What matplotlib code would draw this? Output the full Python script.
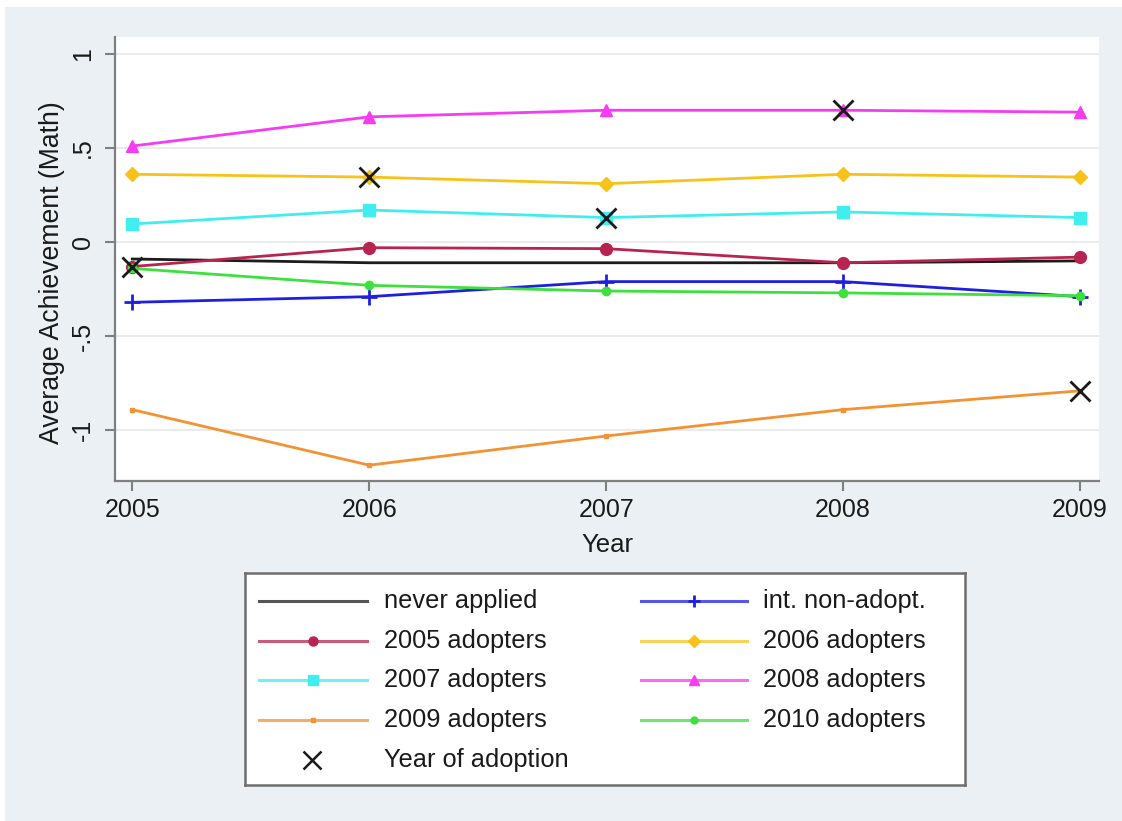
import matplotlib
matplotlib.use("Agg")
import matplotlib.pyplot as plt
from matplotlib.patches import Rectangle
from matplotlib.lines import Line2D

plt.rcParams['font.family'] = ['Liberation Sans', 'DejaVu Sans']

years = [2005, 2006, 2007, 2008, 2009]

never_applied = [-0.09, -0.11, -0.11, -0.11, -0.10]
int_non_adopt = [-0.32, -0.29, -0.21, -0.21, -0.29]
adopters_2005 = [-0.13, -0.03, -0.035, -0.11, -0.08]
adopters_2006 = [0.36, 0.345, 0.31, 0.36, 0.345]
adopters_2007 = [0.096, 0.17, 0.13, 0.16, 0.13]
adopters_2008 = [0.51, 0.665, 0.70, 0.70, 0.69]
adopters_2009 = [-0.89, -1.185, -1.03, -0.89, -0.79]
adopters_2010 = [-0.14, -0.23, -0.26, -0.27, -0.285]

adoption_years = [2005, 2006, 2007, 2008, 2009]
adoption_values = [-0.13, 0.345, 0.13, 0.70, -0.79]

y_ticks = [-1, -0.5, 0, 0.5, 1]
y_tick_labels = ["-1", "-.5", "0", ".5", "1"]

# label, values, color, marker, marker size (plot), marker size (legend)
series = [
    ("never applied", never_applied, "#1c1c1c", None, 0, 0),
    ("int. non-adopt.", int_non_adopt, "#1f1fe0", "+", 11, 8),
    ("2005 adopters", adopters_2005, "#b82450", "o", 8.5, 6.5),
    ("2006 adopters", adopters_2006, "#f7c21a", "D", 7.5, 6),
    ("2007 adopters", adopters_2007, "#40eef0", "s", 8, 6.5),
    ("2008 adopters", adopters_2008, "#f53cf0", "^", 9, 7.5),
    ("2009 adopters", adopters_2009, "#f39233", "s", 3.5, 3.5),
    ("2010 adopters", adopters_2010, "#3ee03e", "o", 6, 5),
]

W, H = 1122, 821
fig = plt.figure(figsize=(W / 100, H / 100), dpi=100)
fig.patch.set_facecolor("white")
fig.add_artist(Rectangle((5 / W, 0), 1 - 5 / W, 1 - 7 / H, transform=fig.transFigure,
                         facecolor="#eaf0f3", edgecolor="none", zorder=-10))

# main plot region
L, R, T, B = 115, 1099, 37, 481
ax = fig.add_axes([L / W, 1 - B / H, (R - L) / W, (B - T) / H])
ax.set_facecolor("white")

for label, vals, color, marker, ms, _ in series:
    mew = 2 if marker == "+" else 1
    ax.plot(years, vals, color=color, lw=2, marker=marker, ms=ms,
            mew=mew, mec=color, mfc=color, zorder=3)

ax.plot(adoption_years, adoption_values, linestyle="none", marker="x",
        ms=14, mew=2, color="#1a1a1a", zorder=5)

ax.set_xlim(2004.927, 2009.08)
ax.set_ylim(-1.269, 1.089)
ax.set_xticks(years)
ax.set_xticklabels([str(y) for y in years])
ax.set_yticks(y_ticks)
ax.set_yticklabels(y_tick_labels, rotation=90, va="center")

ax.grid(axis="y", color="#e6eaea", lw=1.3, zorder=0)
ax.set_axisbelow(True)

for side in ("top", "right"):
    ax.spines[side].set_visible(False)
for side in ("left", "bottom"):
    ax.spines[side].set_color("#7f7f7f")
    ax.spines[side].set_linewidth(1.6)

ax.tick_params(axis="both", direction="out", length=7.5, width=1.5,
               color="#7f7f7f", labelsize=18, labelcolor="#1a1a1a")
ax.tick_params(axis="x", pad=5)
ax.tick_params(axis="y", pad=7)

ax.set_xlabel("Year", fontsize=18.5, color="#1a1a1a", va="center")
ax.xaxis.set_label_coords(0.5, (B - 545) / (B - T))
ax.set_ylabel("Average Achievement (Math)", fontsize=19.2, color="#1a1a1a", va="center")
ax.yaxis.set_label_coords((52 - L) / (R - L), 0.47)

# legend box, laid out in figure pixels
LL, LR, LT, LB = 245, 965, 573, 785
lax = fig.add_axes([LL / W, 1 - LB / H, (LR - LL) / W, (LB - LT) / H])
lax.set_xlim(LL, LR)
lax.set_ylim(LB, LT)
lax.set_xticks([])
lax.set_yticks([])
lax.set_facecolor("white")
for s in lax.spines.values():
    s.set_color("#6e6e6e")
    s.set_linewidth(1.8)

row_y = [601, 641, 680, 720, 760]
cols = [(259, 367, 384), (641, 747, 763)]
for i, (label, vals, color, marker, _, lms) in enumerate(series):
    r, c = divmod(i, 2)
    x0, x1, xt = cols[c]
    y = row_y[r]
    mew = 2 if marker == "+" else 1
    lax.add_line(Line2D([x0, x1], [y, y], color=color, lw=2.2, alpha=0.75))
    if marker is not None:
        lax.plot([(x0 + x1) / 2], [y], marker=marker, ms=lms, mew=mew,
                 color=color, mec=color, mfc=color)
    lax.text(xt, y, label, fontsize=18.3, va="center", ha="left", color="#1a1a1a")

lax.plot([312], [row_y[4]], marker="x", ms=13, mew=1.8, color="#1a1a1a", linestyle="none")
lax.text(cols[0][2], row_y[4], "Year of adoption", fontsize=18.3, va="center",
         ha="left", color="#1a1a1a")

fig.savefig("out.png", dpi=100)
